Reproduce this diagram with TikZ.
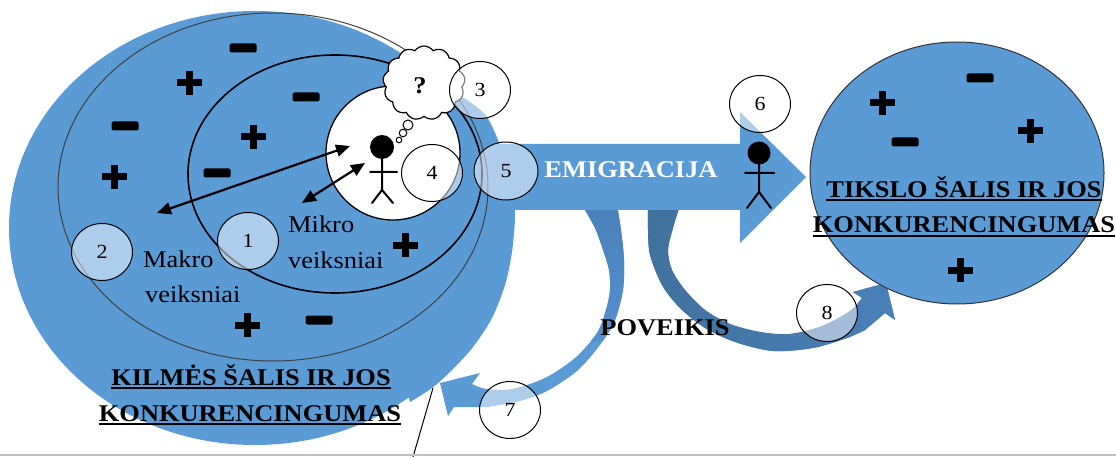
\documentclass[tikz,border=0pt]{standalone}
\usepackage{fontspec}
\setmainfont{Liberation Serif}[FakeStretch=1.1]
\usetikzlibrary{arrows.meta,shapes.geometric,shapes.symbols}
\definecolor{blueA}{HTML}{5B9BD5}
\definecolor{blueD}{HTML}{41719C}
\definecolor{blueE}{HTML}{4A80BA}
\definecolor{blueM}{HTML}{4A80BA}
\begin{document}
\begin{tikzpicture}[x=1pt,y=-1pt,
 numc/.style={ellipse, draw=black, line width=1pt, fill=white, fill opacity=0.5, text opacity=1, minimum width=61pt, minimum height=57pt, inner sep=0pt, font=\fontsize{20}{20}\selectfont},
 lbl/.style={inner sep=0pt, anchor=base, font=\fontsize{24}{24}\selectfont},
 lblb/.style={inner sep=0pt, anchor=base, font=\fontsize{24}{24}\selectfont\bfseries},
 stick/.style={line width=2pt, line cap=round},
 dbl/.style={line width=2.2pt, {Triangle[length=14pt,width=12pt]}-{Triangle[length=14pt,width=12pt]}},
 uline/.style={line width=1.4pt},
 plussign/.pic={\fill (-12.5,-3.5) rectangle (12.5,3.5); \fill (-3.5,-12) rectangle (3.5,12);},
 minussign/.pic={\fill[rounded corners=1.5pt] (-13.5,-4.5) rectangle (13.5,4.5);}
]
\useasboundingbox (0,0) rectangle (1116,457);
\fill[white] (0,0) rectangle (1116,457);

% home country (big ellipse + crescent)
\fill[blueA] (255,228) ellipse [x radius=246, y radius=217];
\fill[blueA] plot[smooth] coordinates {(450,90) (470,102) (487,117) (500,145) (512,180) (515,215) (512,252) (505,285) (492,318) (473,347) (452,370) (432,388) (410,402)} -- (380,300) -- (430,120) -- cycle;

% curved arrow 7
\path[fill=blueA, path picture={\shade[top color=blueE, bottom color=blueA] (560,205) rectangle (660,340);}]
 plot[smooth] coordinates {(582,205) (595,228) (603,250) (609,270) (610,290) (606,310) (597,333) (575,358) (545,378) (512,389) (486,389) (472,384)}
 -- (480,373) -- (440,383) -- (448,416) -- (454,407)
 -- plot[smooth] coordinates {(487,407) (520,401) (547,391) (577,371) (600,345) (615,320) (623,290) (624,260) (621,230) (617,205)} -- cycle;

% curved arrow 8
\path[fill=blueM, path picture={\shade[left color=blueD, right color=blueM] (640,200) rectangle (900,360);}]
 plot[smooth] coordinates {(680,205) (673,228) (668,250) (672,270) (685,290) (705,310) (730,324) (760,332) (790,334) (822,326) (850,311) (862,298)}
 -- (853,292) -- (886,283) -- (895,320) -- (885,313)
 -- plot[smooth] coordinates {(865,330) (847,338) (813,348) (773,351) (735,342) (705,328) (680,308) (662,285) (650,255) (648,230) (648,205)} -- cycle;

% emigration arrow
\fill[blueA] (470,144) -- (740,144) -- (740,112) -- (806,177) -- (740,243) -- (740,210) -- (470,210) -- cycle;

% macro / micro ellipses
\draw[black!75, line width=1pt] (273,187) ellipse [x radius=215, y radius=174];
\draw[black, line width=1.6pt] (335,174) ellipse [x radius=147, y radius=119];

% signs in home country
\pic at (243,48) {minussign};
\pic at (189,83) {plussign};
\pic at (125,126) {minussign};
\pic at (114,177) {plussign};
\pic at (306,97) {minussign};
\pic at (253,137) {plussign};
\pic at (217,173) {minussign};
\pic at (405,245) {plussign};
\pic at (247,325) {plussign};
\pic at (319,320) {minussign};

% labels
\node[lbl, anchor=base west] (mak1) at (143,267) {Makro};
\node[lbl, anchor=base west] (mak2) at (145,302) {veiksniai};
\node[lbl, anchor=base west] (mik1) at (288,233) {Mikro};
\node[lbl, anchor=base west] (mik2) at (288,268) {veiksniai};

% individual circle
\node[circle, draw=black, line width=1.3pt, fill=white, minimum size=134pt, inner sep=0pt] (ind) at (393,153) {};
\fill (382,147) circle [radius=12];
\draw[stick] (382,158) -- (382,190) (370,172) -- (397,172) (382,190) -- (372,203) (382,190) -- (393,203);

% double arrows
\coordinate (ma) at (157,213);
\coordinate (mb) at (350,146);
\coordinate (ia) at (302,203);
\coordinate (ib) at (365,163);
\draw[dbl] (ma) -- (mb);
\draw[dbl] (ia) -- (ib);

% thought cloud
\node[cloud, cloud puffs=13, cloud puff arc=110, aspect=1.1, draw=black, line width=1.2pt, fill=white, minimum width=82pt, minimum height=74pt, inner sep=0pt] (cl) at (424,83) {};
\node[lblb] (q) at (420,94) {?};
\draw[line width=1pt, fill=white] (408,125) circle [radius=5];
\draw[line width=1pt, fill=white] (403,133) circle [radius=3.8];
\draw[line width=1pt, fill=white] (399,140) circle [radius=2.8];

% destination country
\node[ellipse, draw=black!80, line width=1pt, fill=blueA, minimum width=294pt, minimum height=262pt, inner sep=0pt] (dest) at (957,173) {};
\pic at (882,103) {plussign};
\pic at (980,78) {minussign};
\pic at (1030,131) {plussign};
\pic at (905,142) {minussign};
\pic at (960,270) {plussign};
\node[lblb] (ts1) at (964,197) {TIKSLO ŠALIS IR JOS};
\node[lblb] (ts2) at (964,233) {KONKURENCINGUMAS};
\draw[uline] ([yshift=-3pt]ts1.base west) -- ([yshift=-3pt]ts1.base east);
\draw[uline] ([yshift=-3pt]ts2.base west) -- ([yshift=-3pt]ts2.base east);

% emigrant
\fill (759,153) circle [radius=11.5];
\draw[stick] (759,164) -- (759,192) (745,173) -- (774,173) (759,192) -- (747,208) (759,192) -- (771,208);

% home country title
\node[lblb] (ks1) at (251,385) {KILMĖS ŠALIS IR JOS};
\node[lblb] (ks2) at (250,421) {KONKURENCINGUMAS};
\draw[uline] ([yshift=-3pt]ks1.base west) -- ([yshift=-3pt]ks1.base east);
\draw[uline] ([yshift=-3pt]ks2.base west) -- ([yshift=-3pt]ks2.base east);

\node[lblb, text=white] (emi) at (631,178) {EMIGRACIJA};
\node[lblb] (pov) at (665,335) {POVEIKIS};

% numbered circles
\node[numc] (n1) at (248,241) {1};
\node[numc] (n2) at (102,252) {2};
\node[numc] (n3) at (480,90) {3};
\node[numc] (n4) at (432,173) {4};
\node[numc, minimum width=64pt, minimum height=58pt] (n5) at (506,171) {5};
\node[numc] (n6) at (760,104) {6};
\node[numc] (n7) at (510,410) {7};
\node[numc] (n8) at (827,313) {8};

% stray line and bottom rule
\coordinate (la) at (413,457);
\coordinate (lb) at (433,388);
\draw[line width=1pt] (la) -- (lb);
\coordinate (ba) at (0,455);
\coordinate (bb) at (1116,455);
\draw[black!25, line width=1.5pt] (ba) -- (bb);
\end{tikzpicture}
\end{document}
